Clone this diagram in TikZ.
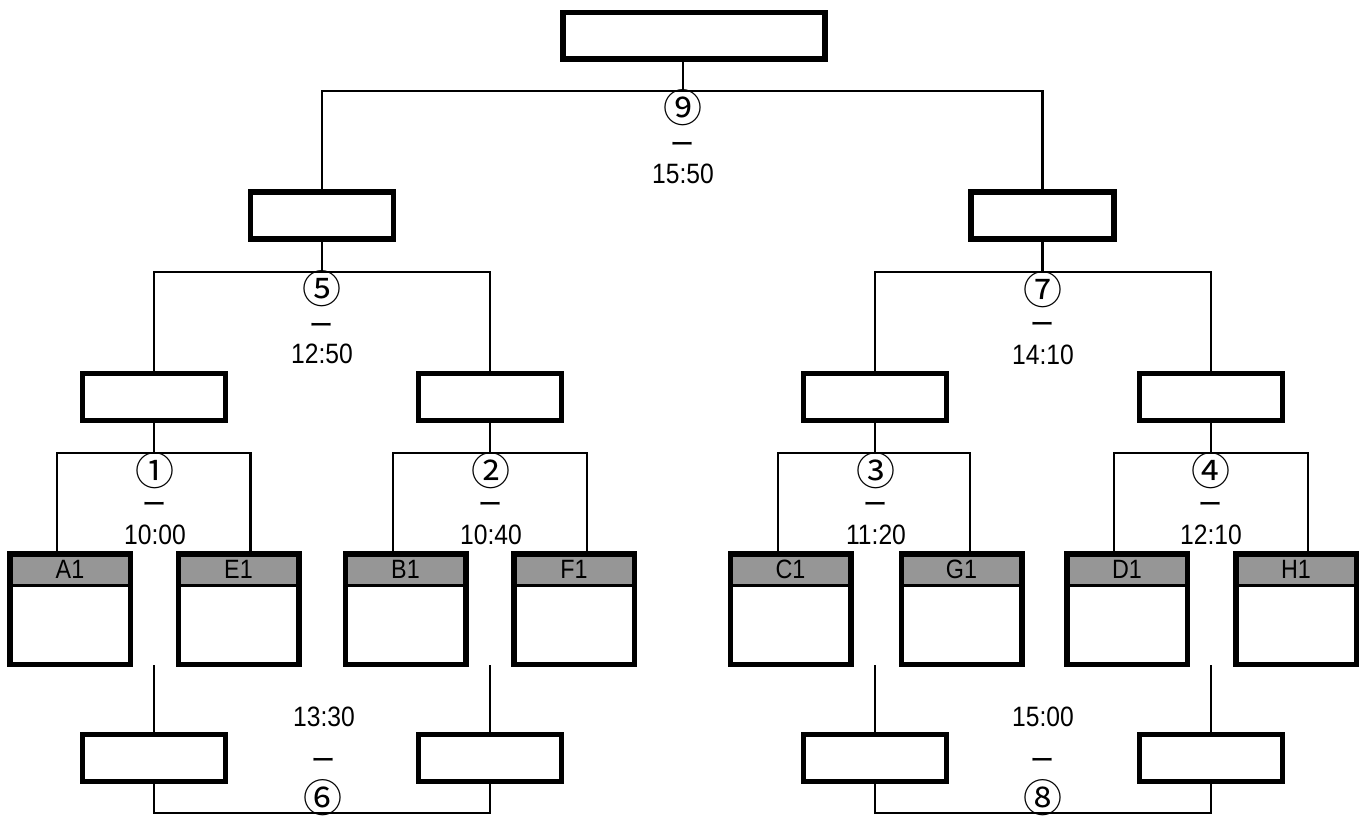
\documentclass[tikz,border=0pt]{standalone}
\usepackage{fontspec}
\setmainfont{Noto Sans CJK JP}
\newfontfamily\numf[FakeStretch=0.88]{Liberation Sans}
\newfontfamily\dashf[FakeStretch=0.86]{Noto Sans CJK JP}
\newfontfamily\circf{Noto Sans CJK JP}
\usetikzlibrary{backgrounds}
\definecolor{hdrgray}{RGB}{150,150,150}
\tikzset{
  wbox/.style={draw, line width=5.5pt, fill=white, minimum width=143pt, minimum height=47pt, inner sep=0pt, outer sep=0pt},
  topbox/.style={wbox, minimum width=262pt, minimum height=46.5pt},
  teambox/.style={draw, line width=5.5pt, minimum width=120.5pt, minimum height=110.5pt, inner sep=0pt, outer sep=0pt},
  teamhdr/.style={fill=hdrgray, minimum width=120.5pt, minimum height=31.25pt, inner sep=0pt, outer sep=0pt, font=\numf\fontsize{26.5}{26.5}\selectfont},
  conn/.style={line width=2.8pt},
  divider/.style={line width=3pt},
  circlbl/.style={font=\circf\fontsize{39}{39}\selectfont, inner sep=0pt},
  numlbl/.style={font=\numf\fontsize{28}{28}\selectfont, inner sep=0pt},
  dashlbl/.style={font=\dashf\fontsize{28}{28}\selectfont, inner sep=0pt},
}
\begin{document}
\begin{tikzpicture}[x=1pt,y=-1pt]
\useasboundingbox (0,0) rectangle (1365,816);
% boxes
\node[topbox] (top) at (694,36) {};
\node[wbox] (L2) at (322,215.5) {};
\node[wbox] (R2) at (1042.5,215.5) {};
\node[wbox] (L3a) at (154,397) {};
\node[wbox] (L3b) at (490,397) {};
\node[wbox] (R3a) at (875,397) {};
\node[wbox] (R3b) at (1211,397) {};
\node[wbox] (LB1) at (154,758) {};
\node[wbox] (LB2) at (490,758) {};
\node[wbox] (RB1) at (875,758) {};
\node[wbox] (RB2) at (1211,758) {};
% team boxes
\foreach \nm/\x in {A1/70, E1/238.5, B1/405.5, F1/574, C1/790.5, G1/961.5, D1/1127, H1/1296}{
  \node[teamhdr] (\nm h) at (\x,569.4) {\nm};
  \draw[divider] (\nm h.south west) -- (\nm h.south east);
  \node[teambox] (\nm) at (\x,609) {};
}
% coordinates of junctions
\coordinate (j9) at (683,91);
\coordinate (j5) at (322,272);
\coordinate (j7) at (1042.5,272);
\coordinate (pA) at (57,453);
\coordinate (pE) at (250.5,453);
\coordinate (pB) at (393,453);
\coordinate (pF) at (587,453);
\coordinate (pC) at (778,453);
\coordinate (pG) at (970,453);
\coordinate (pD) at (1114,453);
\coordinate (pH) at (1308,453);
\coordinate (q1) at (154,665);
\coordinate (q2) at (490,665);
\coordinate (q3) at (875,665);
\coordinate (q4) at (1211,665);
\coordinate (b6) at (322,813);
\coordinate (b8) at (1043,813);
\begin{scope}[on background layer]
\fill[white] (0,0) rectangle (1365,816);
\draw[conn] (top.south -| j9) -- (j9);
\draw[conn] (L2.north) -- (L2.north |- j9) -- (R2.north |- j9) -- (R2.north);
\draw[conn] (L2.south) -- (j5);
\draw[conn] (L3a.north) -- (L3a.north |- j5) -- (L3b.north |- j5) -- (L3b.north);
\draw[conn] (R2.south) -- (j7);
\draw[conn] (R3a.north) -- (R3a.north |- j7) -- (R3b.north |- j7) -- (R3b.north);
\draw[conn] (L3a.south) -- (L3a.south |- pA);
\draw[conn] (A1h.north -| pA) -- (pA) -- (pE) -- (E1h.north -| pE);
\draw[conn] (L3b.south) -- (L3b.south |- pB);
\draw[conn] (B1h.north -| pB) -- (pB) -- (pF) -- (F1h.north -| pF);
\draw[conn] (R3a.south) -- (R3a.south |- pC);
\draw[conn] (C1h.north -| pC) -- (pC) -- (pG) -- (G1h.north -| pG);
\draw[conn] (R3b.south) -- (R3b.south |- pD);
\draw[conn] (D1h.north -| pD) -- (pD) -- (pH) -- (H1h.north -| pH);
\draw[conn] (q1) -- (q1 |- b6) -- (q2 |- b6) -- (q2);
\draw[conn] (q3) -- (q3 |- b8) -- (q4 |- b8) -- (q4);
\end{scope}
% labels
\node[circlbl] (c9) at (683,108) {⑨};
\node[dashlbl] (d9) at (683,148) {ー};
\node[numlbl] (t9) at (683,174) {15:50};
\node[circlbl] (c5) at (322,289) {⑤};
\node[dashlbl] (d5) at (322,329) {ー};
\node[numlbl] (t5) at (322,354) {12:50};
\node[circlbl] (c7) at (1043,290) {⑦};
\node[dashlbl] (d7) at (1043,328) {ー};
\node[numlbl] (t7) at (1043,355) {14:10};
\node[circlbl] (c1) at (155,471) {①};
\node[dashlbl] (d1) at (155,508) {ー};
\node[numlbl] (t1) at (155,535) {10:00};
\node[circlbl] (c2) at (491,471) {②};
\node[dashlbl] (d2) at (491,508) {ー};
\node[numlbl] (t2) at (491,535) {10:40};
\node[circlbl] (c3) at (876,471) {③};
\node[dashlbl] (d3) at (876,508) {ー};
\node[numlbl] (t3) at (876,535) {11:20};
\node[circlbl] (c4) at (1211,471) {④};
\node[dashlbl] (d4) at (1211,508) {ー};
\node[numlbl] (t4) at (1211,535) {12:10};
\node[numlbl] (t6) at (324,717) {13:30};
\node[dashlbl] (d6) at (324,764) {ー};
\node[circlbl] (c6) at (323,798) {⑥};
\node[numlbl] (t8) at (1043,717) {15:00};
\node[dashlbl] (d8) at (1043,764) {ー};
\node[circlbl] (c8) at (1043,798) {⑧};
\end{tikzpicture}
\end{document}
